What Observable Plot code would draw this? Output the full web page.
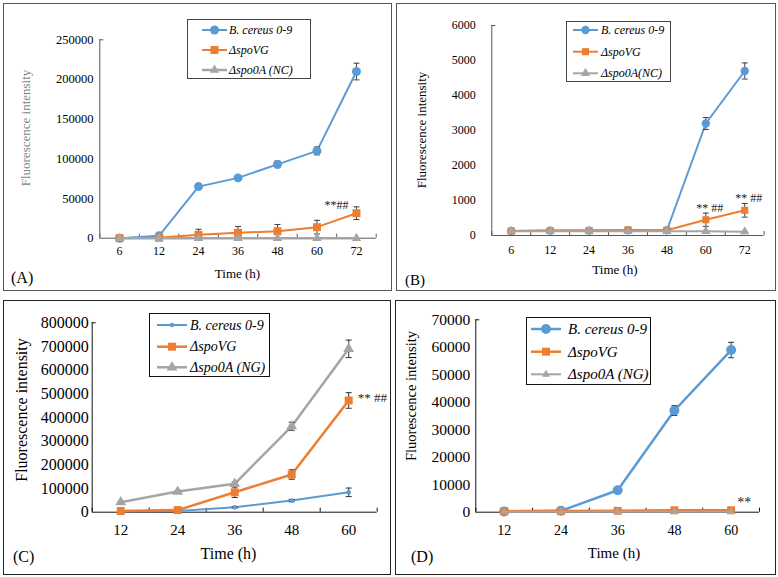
<!DOCTYPE html>
<html><head><meta charset="utf-8">
<script src="https://cdn.jsdelivr.net/npm/d3@7"></script>
<script src="https://cdn.jsdelivr.net/npm/@observablehq/plot@0.6"></script>
<style>
body{margin:0;background:#fff;}
#root{position:relative;width:778px;height:577px;overflow:hidden;font-family:"Liberation Serif","Times New Roman",serif;color:#000;}
.box{position:absolute;box-sizing:border-box;}
.abs{position:absolute;white-space:nowrap;line-height:1;}
.plot{position:absolute;left:0;top:0;}
</style></head><body><div id="root"></div>
<script>
// ---------------- data ----------------
const timesAB = ["6","12","24","36","48","60","72"];
const timesCD = ["12","24","36","48","60"];

const ticksA = [0,50000,100000,150000,200000,250000];
const ticksB = [0,1000,2000,3000,4000,5000,6000];
const ticksC = [0,100000,200000,300000,400000,500000,600000,700000,800000];
const ticksD = [0,10000,20000,30000,40000,50000,60000,70000];

const namesA = ["B. cereus 0-9","ΔspoVG","Δspo0A (NC)"];
const namesB = ["B. cereus 0-9","ΔspoVG","Δspo0A(NC)"];
const namesCD = ["B. cereus 0-9","ΔspoVG","Δspo0A (NG)"];

// Panel A
const aCereus    = [0, 3000, 65000, 76000, 93000, 110000, 210000];
const aCereusErr = [0, 1000, 2000, 3000, 4200, 5000, 10500];
const aSpoVG     = [0, 500, 4200, 6800, 8800, 13900, 31500];
const aSpoVGErr  = [0, 500, 7000, 8000, 8500, 8600, 8000];
const aSpo0A     = [0, 0, 0, 0, 0, 0, 0];
const aSpo0AErr  = [0, 0, 0, 0, 0, 0, 0];

// Panel B
const bCereus    = [130, 140, 140, 150, 150, 3200, 4700];
const bCereusErr = [10, 10, 10, 10, 10, 170, 230];
const bSpoVG     = [130, 140, 140, 160, 150, 450, 720];
const bSpoVGErr  = [10, 10, 10, 10, 10, 190, 195];
const bSpo0A     = [120, 120, 120, 120, 120, 120, 110];
const bSpo0AErr  = [0, 0, 0, 0, 0, 0, 0];

// Panel C
const cCereus    = [4000, 5000, 21000, 49000, 84000];
const cCereusErr = [1000, 1000, 3000, 5000, 18000];
const cSpoVG     = [5000, 9000, 84000, 159000, 472000];
const cSpoVGErr  = [2000, 2000, 22000, 20000, 33000];
const cSpo0A     = [42000, 87000, 120000, 363000, 690000];
const cSpo0AErr  = [3000, 5000, 8000, 17000, 37000];

// Panel D
const dCereus    = [300, 500, 8000, 37000, 59000];
const dCereusErr = [0, 0, 500, 1800, 2800];
const dSpoVG     = [300, 400, 500, 700, 700];
const dSpoVGErr  = [0, 0, 0, 0, 0];
const dSpo0A     = [200, 200, 200, 200, 200];
const dSpo0AErr  = [0, 0, 0, 0, 0];

// significance annotations: series index, time index, text
const annotA = [{s:1, i:6, text:"**##"}];
const annotB = [{s:1, i:5, text:"** ##"}, {s:1, i:6, text:"** ##"}];
const annotC = [{s:1, i:4, text:"** ##"}];
const annotD = [{s:1, i:4, text:"**"}];

// ---------------- styles ----------------
const BLUE = "#5B9BD5", ORANGE = "#ED7D31", GREY = "#A5A5A5";
const FONT = "'Liberation Serif','Times New Roman',serif";
const capSymbol = {draw(ctx, size){ const r = Math.sqrt(size/Math.PI); ctx.moveTo(-r,0); ctx.lineTo(r,0); }};

function ser(values, errs, name, color, symbol, r, width){ return {values, errs, name, color, symbol, r, width}; }

const panels = [
 {letter:"(A)", box:[3,3,392,291], border:"1px solid #555", frame:[99.3,39.3,375.7,237.7],
  cats:timesAB, ymax:250000, yTicks:ticksA, axisColor:"#595959", errColor:"#404040", capR:3,
  xFont:12, yFont:12.5, xPad:8, yPad:6.3,
  series:[ser(aCereus,aCereusErr,namesA[0],BLUE,"circle",4.5,2),
          ser(aSpoVG,aSpoVGErr,namesA[1],ORANGE,"square",4.5,2),
          ser(aSpo0A,aSpo0AErr,namesA[2],GREY,"triangle",3.5,2.5)],
  annot:annotA, annotStyle:{dx:-20, dy:-8, anchor:"middle", size:12},
  xTitle:{x:237.5,y:273,size:13}, yTitle:{x:25,y:128,size:13,color:"#7f7f7f"}, letterPos:{x:11,y:278,size:16},
  legend:{box:[187,19,311,79], rows:[30,50,70], line:[202,227], textX:229, size:12}},
 {letter:"(B)", box:[396,3,776,291], border:"1px solid #555", frame:[491.3,25,763.7,235],
  cats:timesAB, ymax:6000, yTicks:ticksB, axisColor:"#595959", errColor:"#404040", capR:3,
  xFont:12, yFont:12, xPad:10.4, yPad:16,
  series:[ser(bCereus,bCereusErr,namesB[0],BLUE,"circle",4.2,2),
          ser(bSpoVG,bSpoVGErr,namesB[1],ORANGE,"square",4,2),
          ser(bSpo0A,bSpo0AErr,namesB[2],GREY,"triangle",3.5,2)],
  annot:annotB, annotStyle:{dx:4, dy:-12, anchor:"middle", size:12},
  xTitle:{x:615,y:269,size:13}, yTitle:{x:421,y:130,size:13,color:"#000"}, letterPos:{x:405,y:280,size:15},
  legend:{box:[566,21,671,82], rows:[30,51.7,73.3], line:[573,598], textX:601, size:12}},
 {letter:"(C)", box:[3,300,391,575], border:"1.5px solid #222", frame:[91.7,322.3,376.7,511.7],
  cats:timesCD, ymax:800000, yTicks:ticksC, axisColor:"#111", errColor:"#333", capR:3,
  xFont:15, yFont:16, xPad:12.6, yPad:3.4,
  series:[ser(cCereus,cCereusErr,namesCD[0],BLUE,"circle",2.3,2),
          ser(cSpoVG,cSpoVGErr,namesCD[1],ORANGE,"square",4.5,2.5),
          ser(cSpo0A,cSpo0AErr,namesCD[2],GREY,"triangle",4,2.5)],
  annot:annotC, annotStyle:{dx:9, dy:-3, anchor:"start", size:13},
  xTitle:{x:228.5,y:554,size:16}, yTitle:{x:21.7,y:410,size:16,color:"#000"}, letterPos:{x:13,y:557,size:16},
  legend:{box:[149,313,270,377], rows:[325,346.7,367.3], line:[157,187], textX:190, size:14}},
 {letter:"(D)", box:[395,300,776,575], border:"1.5px solid #222", frame:[475.3,319.3,759,511.7],
  cats:timesCD, ymax:70000, yTicks:ticksD, axisColor:"#111", errColor:"#333", capR:3,
  xFont:14, yFont:15.5, xPad:13, yPad:5.6,
  series:[ser(dCereus,dCereusErr,namesCD[0],BLUE,"circle",5,2.5),
          ser(dSpoVG,dSpoVGErr,namesCD[1],ORANGE,"square",4.5,2.5),
          ser(dSpo0A,dSpo0AErr,namesCD[2],GREY,"triangle",3,2)],
  annot:annotD, annotStyle:{dx:13, dy:-8, anchor:"middle", size:14},
  xTitle:{x:614,y:553,size:15}, yTitle:{x:411,y:396,size:14.5,color:"#000"}, letterPos:{x:411,y:557,size:16},
  legend:{box:[526,317,651,385], rows:[329,351.7,374.3], line:[531,561], textX:568, size:15}}
];

const root = document.getElementById("root");

function addText(txt, x, y, size, opts = {}) {
  const el = document.createElement("div");
  el.className = "abs";
  el.textContent = txt;
  el.style.left = x + "px";
  el.style.top = y + "px";
  el.style.fontSize = size + "px";
  el.style.color = opts.color || "#000";
  if (opts.italic) el.style.fontStyle = "italic";
  el.style.transform = opts.transform || "translate(-50%,-50%)";
  root.appendChild(el);
  return el;
}

function makePanel(p) {
  const [bx0,by0,bx1,by1] = p.box;
  const [fx0,fy0,fx1,fy1] = p.frame;
  const n = p.cats.length;
  const plotH = fy1 - fy0, plotW = fx1 - fx0;

  const border = document.createElement("div");
  border.className = "box";
  Object.assign(border.style, {left:bx0+"px", top:by0+"px", width:(bx1-bx0)+"px", height:(by1-by0)+"px", border:p.border});
  root.appendChild(border);

  const marks = [];
  marks.push(Plot.ruleY([0], {stroke:p.axisColor, strokeWidth:1}));
  marks.push(Plot.ruleX([-0.5], {stroke:p.axisColor, strokeWidth:1}));
  marks.push(Plot.ruleX(d3.range(n+1).map(i => i - 0.5), {x:d=>d, stroke:p.axisColor, insetTop:plotH - 4}));
  marks.push(Plot.ruleY([p.ymax], {stroke:p.axisColor, insetRight:plotW - 4}));
  marks.push(Plot.axisX(d3.range(n), {tickSize:0, tickPadding:p.xPad, tickFormat:i => p.cats[i], fontSize:p.xFont, label:null, fill:"#000"}));
  marks.push(Plot.axisY(p.yTicks, {tickSize:0, tickPadding:p.yPad, tickFormat:d => String(d), fontSize:p.yFont, label:null, fill:"#000"}));

  p.series.forEach(s => {
    const data = s.values.map((v,i) => ({i, v, e:s.errs[i]}));
    const eb = data.filter(d => d.e > 0);
    marks.push(Plot.line(data, {x:"i", y:"v", stroke:s.color, strokeWidth:s.width}));
    marks.push(Plot.ruleX(eb, {x:"i", y1:d => d.v - d.e, y2:d => d.v + d.e, stroke:p.errColor, strokeWidth:1, clip:true}));
    marks.push(Plot.dot(eb, {x:"i", y:d => d.v + d.e, symbol:capSymbol, r:p.capR, stroke:p.errColor, fill:"none", strokeWidth:1}));
    marks.push(Plot.dot(eb.filter(d => d.v - d.e >= 0), {x:"i", y:d => d.v - d.e, symbol:capSymbol, r:p.capR, stroke:p.errColor, fill:"none", strokeWidth:1}));
    marks.push(Plot.dot(data, {x:"i", y:"v", symbol:s.symbol, r:s.r, fill:s.color, stroke:"none"}));
  });

  const an = p.annot.map(a => ({i:a.i, v:p.series[a.s].values[a.i], text:a.text}));
  marks.push(Plot.text(an, {x:"i", y:"v", text:"text", dx:p.annotStyle.dx, dy:p.annotStyle.dy,
    textAnchor:p.annotStyle.anchor, fontSize:p.annotStyle.size, fill:"#222"}));

  const svg = Plot.plot({
    width: bx1 - bx0, height: by1 - by0,
    marginLeft: fx0 - bx0, marginRight: bx1 - fx1, marginTop: fy0 - by0, marginBottom: by1 - fy1,
    style: {fontFamily: FONT, background: "transparent", overflow: "visible", color:"#000"},
    x: {type:"linear", domain:[-0.5, n - 0.5]},
    y: {type:"linear", domain:[0, p.ymax]},
    marks
  });
  svg.classList.add("plot");
  svg.style.left = bx0 + "px";
  svg.style.top = by0 + "px";
  svg.style.position = "absolute";
  root.appendChild(svg);

  // titles
  addText("Time (h)", p.xTitle.x, p.xTitle.y, p.xTitle.size);
  addText("Fluorescence intensity", p.yTitle.x, p.yTitle.y, p.yTitle.size,
          {color:p.yTitle.color, transform:"translate(-50%,-50%) rotate(-90deg)"});
  addText(p.letter, p.letterPos.x, p.letterPos.y, p.letterPos.size, {transform:"translate(0,-50%)"});

  // legend
  const L = p.legend;
  const [lx0,ly0,lx1,ly1] = L.box;
  const lg = d3.create("svg")
    .attr("width", lx1 - lx0).attr("height", ly1 - ly0)
    .style("position","absolute").style("left", lx0 + "px").style("top", ly0 + "px")
    .style("overflow","visible").style("font-family", FONT);
  lg.append("rect").attr("x",0.5).attr("y",0.5).attr("width",lx1-lx0-1).attr("height",ly1-ly0-1)
    .attr("fill","#fff").attr("stroke", p.axisColor === "#111" ? "#111" : "#444").attr("stroke-width",1);
  const symMap = {circle:d3.symbolCircle, square:d3.symbolSquare, triangle:d3.symbolTriangle};
  p.series.forEach((s,k) => {
    const y = L.rows[k] - ly0;
    const x0 = L.line[0] - lx0, x1 = L.line[1] - lx0;
    lg.append("line").attr("x1",x0).attr("x2",x1).attr("y1",y).attr("y2",y).attr("stroke",s.color).attr("stroke-width",s.width);
    lg.append("path").attr("transform",`translate(${(x0+x1)/2},${y})`)
      .attr("d", d3.symbol(symMap[s.symbol], Math.PI * s.r * s.r)()).attr("fill", s.color);
    lg.append("text").attr("x", L.textX - lx0).attr("y", y).attr("dy","0.33em")
      .attr("font-size", L.size).attr("font-style","italic").attr("fill","#000").text(s.name);
  });
  root.appendChild(lg.node());
}

panels.forEach(makePanel);
</script>
</body></html>
